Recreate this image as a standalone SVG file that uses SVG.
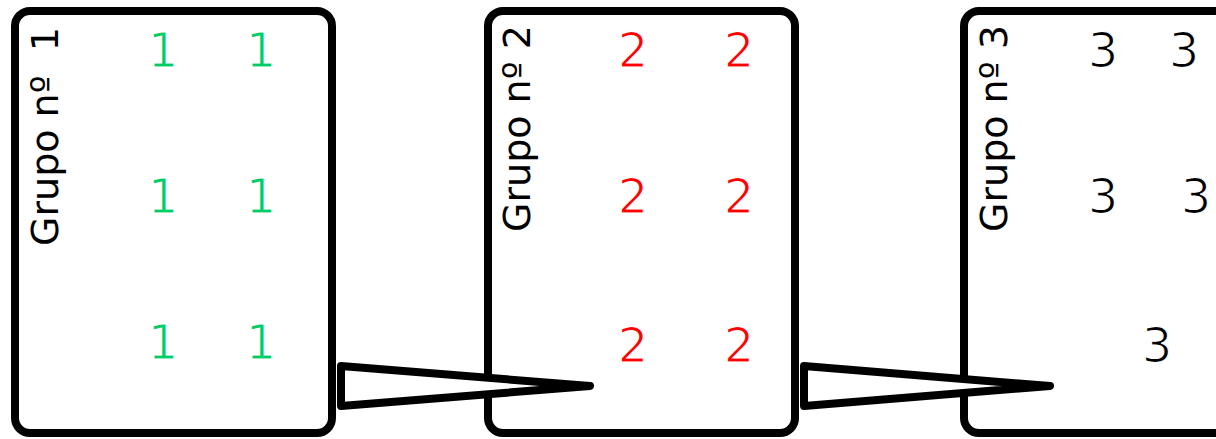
<svg xmlns="http://www.w3.org/2000/svg" width="1216" height="439" viewBox="0 0 1216 439">
<style>
.box{fill:#fff;stroke:#000;stroke-width:8}
.lbl{font-family:"DejaVu Sans",sans-serif;font-size:38px;fill:#000}
.num{font-family:"DejaVu Sans",sans-serif;font-size:48px;text-anchor:middle;stroke:#fff;stroke-width:1.2}
.g1{fill:#00cc66}
.g2{fill:#ff0000}
.g3{fill:#000}
.wedge{fill:#fff;stroke:#000;stroke-width:8;stroke-linejoin:round}
</style>
<rect width="1216" height="439" fill="#fff"/>
<g id="grupo1">
<rect class="box" x="15" y="11" width="317" height="422" rx="15"/>
<text class="lbl" xml:space="preserve" transform="translate(58,246) rotate(-90)">Grupo nº  1</text>
<text class="num g1" x="163" y="67">1</text>
<text class="num g1" x="261" y="67">1</text>
<text class="num g1" x="163" y="213">1</text>
<text class="num g1" x="261" y="213">1</text>
<text class="num g1" x="163" y="359">1</text>
<text class="num g1" x="261" y="359">1</text>
</g>
<g id="grupo2">
<rect class="box" x="488" y="11" width="307" height="422" rx="15"/>
<text class="lbl" transform="translate(530,232) rotate(-90)">Grupo nº 2</text>
<text class="num g2" x="633" y="67">2</text>
<text class="num g2" x="739" y="67">2</text>
<text class="num g2" x="633" y="213">2</text>
<text class="num g2" x="739" y="213">2</text>
<text class="num g2" x="633" y="362">2</text>
<text class="num g2" x="739" y="362">2</text>
</g>
<g id="grupo3">
<rect class="box" x="964" y="11" width="307" height="422" rx="15"/>
<text class="lbl" transform="translate(1007,232) rotate(-90)">Grupo nº 3</text>
<text class="num g3" x="1103" y="67">3</text>
<text class="num g3" x="1184" y="67">3</text>
<text class="num g3" x="1103" y="213">3</text>
<text class="num g3" x="1196" y="213">3</text>
<text class="num g3" x="1157" y="362">3</text>
</g>
<g id="connectors">
<polygon class="wedge" points="341,366 590,386 341,406"/>
<polygon class="wedge" points="804,366 1050,386 804,406"/>
</g>
</svg>
